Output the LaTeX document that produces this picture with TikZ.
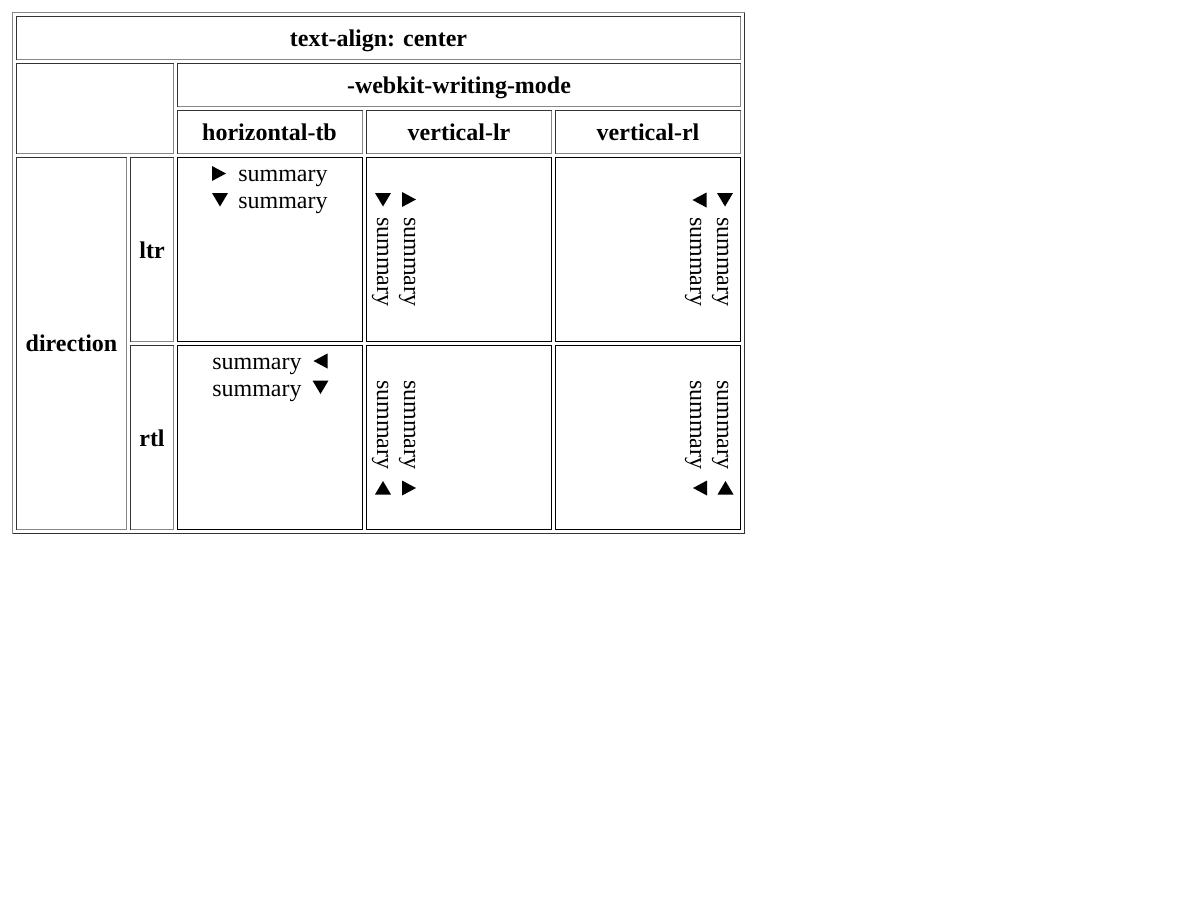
\documentclass[tikz,border=0pt]{standalone}
\usepackage{fontspec}
\setmainfont{Liberation Serif}
\usetikzlibrary{positioning, calc}

\begin{document}
\begin{tikzpicture}[
    x=0.75pt, y=-0.75pt,
    insetdark/.style={draw=black!80, line width=0.75pt},
    insetlight/.style={draw=black!47, line width=0.75pt},
    cellline/.style={draw=black, line width=0.75pt},
    head/.style={font=\bfseries\fontsize{18}{22}\selectfont, inner sep=0pt, anchor=base},
    sumtext/.style={font=\fontsize{18}{22}\selectfont, inner sep=0pt, anchor=base west},
    vsum/.style={sumtext, rotate=-90},
    disc/.pic={\fill (-7,-7.5) -- (7,0) -- (-7,7.5) -- cycle;},
    discdown/.pic={\fill (-8,-6.5) -- (8,-6.5) -- (0,7) -- cycle;}
]
\useasboundingbox (0,0) rectangle (1200,900);

% Outer table border (outset)
\draw[insetlight] (12.5,533.5) -- (12.5,12.5) -- (744.5,12.5);
\draw[insetdark] (744.5,12.5) -- (744.5,533.5) -- (12.5,533.5);

% Header cells (inset borders)
\foreach \xa/\ya/\xb/\yb in {16/16/740/59, 16/63/173/153, 177/63/740/106,
    177/110/362/153, 366/110/551/153, 555/110/740/153,
    16/157/126/529, 130/157/173/341, 130/345/173/529} {
  \draw[insetdark] (\xa+.5,\yb+.5) -- (\xa+.5,\ya+.5) -- (\xb+.5,\ya+.5);
  \draw[insetlight] (\xb+.5,\ya+.5) -- (\xb+.5,\yb+.5) -- (\xa+.5,\yb+.5);
}

% Body cells
\foreach \xa/\xb in {177/362, 366/551, 555/740}
  \foreach \ya/\yb in {157/341, 345/529}
    \draw[cellline] (\xa+.5,\ya+.5) rectangle (\xb+.5,\yb+.5);

% Header texts
\node[head] (title) at (378.5,46.5) {text-align: center};
\node[head] (mode) at (459,93.5) {-webkit-writing-mode};
\node[head] (htb) at (269.5,140.5) {horizontal-tb};
\node[head] (vlr) at (459,140.5) {vertical-lr};
\node[head] (vrl) at (648,140.5) {vertical-rl};
\node[head] (dir) at (71.5,351.5) {direction};
\node[head] (ltr) at (152,258) {ltr};
\node[head] (rtl) at (152,446) {rtl};

% ltr / horizontal-tb
\pic at (219,173.5) {disc};
\node[sumtext] (lh1) at (238,181.5) {summary};
\pic at (220,199.5) {discdown};
\node[sumtext] (lh2) at (238,208.5) {summary};

% ltr / vertical-lr
\pic at (383,199.5) {discdown};
\node[vsum] (lv1) at (377,217) {summary};
\pic at (409,199.5) {disc};
\node[vsum] (lv2) at (404,217) {summary};

% ltr / vertical-rl
\pic[rotate=180] at (699.5,200) {disc};
\node[vsum] (lr1) at (690,217) {summary};
\pic at (725,199.5) {discdown};
\node[vsum] (lr2) at (717,217) {summary};

% rtl / horizontal-tb
\node[sumtext] (rh1) at (212,369.5) {summary};
\pic[rotate=180] at (320.5,361) {disc};
\node[sumtext] (rh2) at (212,396.5) {summary};
\pic at (320.5,387) {discdown};

% rtl / vertical-lr
\node[vsum] (rv1) at (377,380) {summary};
\pic[rotate=180] at (383,488) {discdown};
\node[vsum] (rv2) at (404,380) {summary};
\pic at (409,488) {disc};

% rtl / vertical-rl
\node[vsum] (rr1) at (690,380) {summary};
\pic[rotate=180] at (700,488) {disc};
\node[vsum] (rr2) at (717,380) {summary};
\pic[rotate=180] at (725.5,488) {discdown};

\end{tikzpicture}
\end{document}
